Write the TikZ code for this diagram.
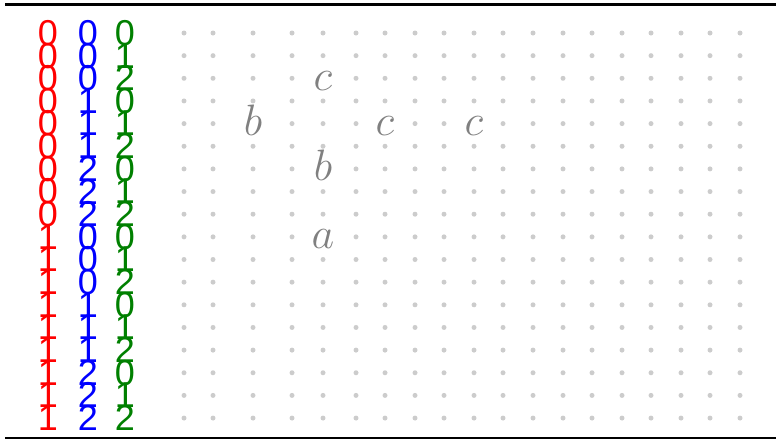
\documentclass[tikz,border=0pt]{standalone}
\usepackage{fix-cm}
\usepackage{fontspec}
\newfontfamily\digitfont{Liberation Sans}
\usepackage{tikz}

\begin{document}
\begin{tikzpicture}[
    x=1pt, y=-1pt,
    digit/.style={inner sep=0pt, font=\digitfont\fontsize{36}{36}\selectfont},
    griddot/.style={circle, fill=black!20, inner sep=0pt, minimum size=5pt},
    letter/.style={inner sep=0pt, anchor=base, text=black!50, font=\fontsize{44}{44}\selectfont},
]
    \useasboundingbox (0,0) rectangle (776,440);

    % rules
    \coordinate (topL) at (5,4.5);
    \coordinate (topR) at (776,4.5);
    \coordinate (botL) at (5,438);
    \coordinate (botR) at (776,438);
    \draw[line width=3pt] (topL) -- (topR);
    \draw[line width=1.1pt] (botL) -- (botR);

    % digit columns
    \foreach \i in {1,...,18} {
        \pgfmathsetmacro\ry{33+(\i-1)*22.65}
        \pgfmathtruncatemacro\dr{(\i-1)/9}
        \pgfmathtruncatemacro\db{mod(int((\i-1)/3),3)}
        \pgfmathtruncatemacro\dg{mod(\i-1,3)}
        \node[digit, text=red] (r\i) at (48,\ry) {\dr};
        \node[digit, text=blue] (b\i) at (88,\ry) {\db};
        \node[digit, text=green!50!black] (g\i) at (125,\ry) {\dg};
    }

    % dot grid
    \foreach \cx [count=\j] in {184,213,253,292,323,356,385,415,444,474,503,533,563,592,622,651,681,710,740} {
        \foreach \i in {1,...,18} {
            \pgfmathsetmacro\ry{33+(\i-1)*22.65}
            \ifnum\j=5 \ifnum\i=3 \def\skipdot{1}\else\ifnum\i=7 \def\skipdot{1}\else\ifnum\i=10 \def\skipdot{1}\else\def\skipdot{0}\fi\fi\fi
            \else\ifnum\i=5
                \ifnum\j=3 \def\skipdot{1}\else\ifnum\j=7 \def\skipdot{1}\else\ifnum\j=10 \def\skipdot{1}\else\def\skipdot{0}\fi\fi\fi
            \else \def\skipdot{0}\fi\fi
            \ifnum\skipdot=0
                \node[griddot] (d-\i-\j) at (\cx,\ry) {};
            \fi
        }
    }

    % letters
    \node[letter] (c1) at (323,90) {$c$};
    \node[letter] (b1) at (253,135) {$b$};
    \node[letter] (c2) at (385,135) {$c$};
    \node[letter] (c3) at (474,135) {$c$};
    \node[letter] (b2) at (323,180.5) {$b$};
    \node[letter] (a1) at (323,248.5) {$a$};
\end{tikzpicture}
\end{document}
